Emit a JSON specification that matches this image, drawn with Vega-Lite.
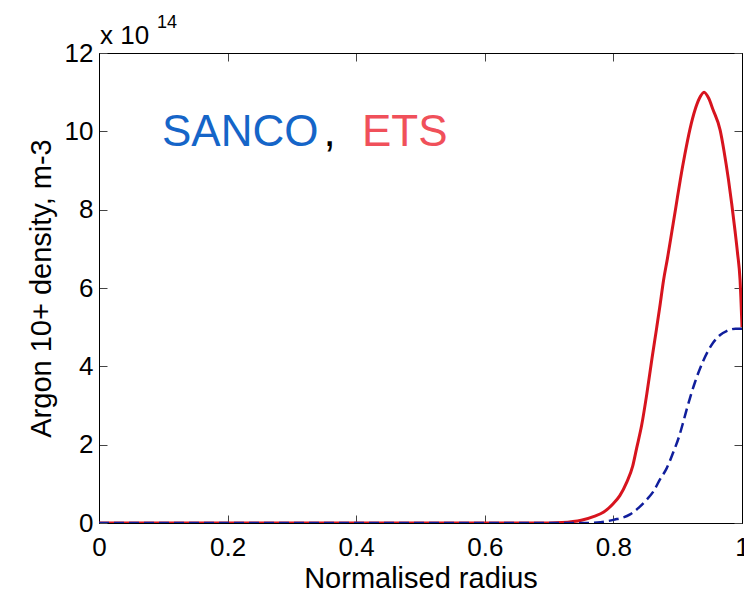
{
  "$schema": "https://vega.github.io/schema/vega-lite/v6.json",
  "autosize": {"type": "none"},
  "padding": {"left": 99, "top": 53, "right": 2, "bottom": 72},
  "width": 643,
  "height": 470,
  "background": "white",
  "config": {
    "font": "Liberation Sans",
    "view": {"stroke": "black", "strokeWidth": 1},
    "axis": {
      "grid": false,
      "domainColor": "black",
      "tickColor": "#444444",
      "tickWidth": 1,
      "labelColor": "black",
      "titleColor": "black",
      "labelFont": "Liberation Sans",
      "titleFont": "Liberation Sans",
      "titleFontWeight": "normal",
      "labelFontSize": 26,
      "titleFontSize": 29
    }
  },
  "datasets": {
    "ets": [
      {"r": 0.0, "n": 0.0}, {"r": 0.7, "n": 0.0}, {"r": 0.72, "n": 0.01},
      {"r": 0.75, "n": 0.07}, {"r": 0.77, "n": 0.17}, {"r": 0.785, "n": 0.28},
      {"r": 0.8, "n": 0.5}, {"r": 0.81, "n": 0.7}, {"r": 0.821, "n": 1.05},
      {"r": 0.83, "n": 1.45}, {"r": 0.836, "n": 1.9}, {"r": 0.844, "n": 2.5},
      {"r": 0.852, "n": 3.3}, {"r": 0.86, "n": 4.2}, {"r": 0.867, "n": 4.95},
      {"r": 0.872, "n": 5.5}, {"r": 0.878, "n": 6.2}, {"r": 0.884, "n": 6.75},
      {"r": 0.891, "n": 7.45}, {"r": 0.897, "n": 8.05}, {"r": 0.904, "n": 8.76},
      {"r": 0.911, "n": 9.4}, {"r": 0.919, "n": 10.05}, {"r": 0.927, "n": 10.55},
      {"r": 0.934, "n": 10.85}, {"r": 0.941, "n": 11.0}, {"r": 0.948, "n": 10.85},
      {"r": 0.955, "n": 10.55}, {"r": 0.966, "n": 10.03}, {"r": 0.972, "n": 9.5},
      {"r": 0.979, "n": 8.76}, {"r": 0.984, "n": 8.15}, {"r": 0.989, "n": 7.48},
      {"r": 0.993, "n": 6.9}, {"r": 0.997, "n": 6.2}, {"r": 1.0, "n": 5.0}
    ],
    "sanco": [
      {"r": 0.0, "n": 0.0}, {"r": 0.7, "n": 0.0}, {"r": 0.76, "n": 0.0},
      {"r": 0.78, "n": 0.02}, {"r": 0.8, "n": 0.08}, {"r": 0.826, "n": 0.22},
      {"r": 0.84, "n": 0.4}, {"r": 0.852, "n": 0.6}, {"r": 0.862, "n": 0.8},
      {"r": 0.872, "n": 1.1}, {"r": 0.883, "n": 1.4}, {"r": 0.893, "n": 1.8},
      {"r": 0.902, "n": 2.2}, {"r": 0.909, "n": 2.6}, {"r": 0.914, "n": 2.9},
      {"r": 0.927, "n": 3.6}, {"r": 0.94, "n": 4.15}, {"r": 0.955, "n": 4.6},
      {"r": 0.966, "n": 4.8}, {"r": 0.976, "n": 4.9}, {"r": 0.99, "n": 4.96},
      {"r": 1.0, "n": 4.96}
    ]
  },
  "resolve": {"axis": {"x": "independent", "y": "independent"}},
  "layer": [
    {
      "description": "ETS profile, solid red, with the labelled bottom and left axes",
      "data": {"name": "ets"},
      "mark": {"type": "line", "color": "#d7141e", "strokeWidth": 3, "interpolate": "monotone", "clip": true},
      "encoding": {
        "x": {
          "field": "r", "type": "quantitative",
          "scale": {"domain": [0, 1], "nice": false, "zero": false},
          "axis": {
            "orient": "bottom", "title": "Normalised radius",
            "values": [0, 0.2, 0.4, 0.6, 0.8, 1], "format": "~g",
            "tickSize": -8, "labelPadding": 19, "titlePadding": 4,
            "labelFlush": false, "labelOverlap": false
          }
        },
        "y": {
          "field": "n", "type": "quantitative",
          "scale": {"domain": [0, 12], "nice": false},
          "axis": {
            "orient": "left", "title": "Argon 10+ density, m-3",
            "values": [0, 2, 4, 6, 8, 10, 12], "format": "d",
            "tickSize": -8, "labelPadding": 14, "titlePadding": 8,
            "labelFlush": false, "labelOverlap": false
          }
        }
      }
    },
    {
      "description": "SANCO profile, dashed navy, carrying the mirrored top and right tick axes",
      "data": {"name": "sanco"},
      "mark": {"type": "line", "color": "#101e9c", "strokeWidth": 2.5, "strokeDash": [10, 5], "interpolate": "monotone", "clip": true},
      "encoding": {
        "x": {
          "field": "r", "type": "quantitative",
          "axis": {"orient": "top", "title": null, "labels": false, "values": [0, 0.2, 0.4, 0.6, 0.8, 1], "tickSize": -8}
        },
        "y": {
          "field": "n", "type": "quantitative",
          "axis": {"orient": "right", "title": null, "labels": false, "values": [0, 2, 4, 6, 8, 10, 12], "tickSize": -8}
        }
      }
    },
    {
      "data": {"values": [{}]},
      "mark": {"type": "text", "text": "SANCO", "color": "#1565c8", "fontSize": 44, "align": "left", "baseline": "alphabetic"},
      "encoding": {"x": {"datum": 0.098, "type": "quantitative", "axis": null}, "y": {"datum": 9.62, "type": "quantitative", "axis": null}}
    },
    {
      "data": {"values": [{}]},
      "mark": {"type": "text", "text": ",", "color": "black", "fontSize": 44, "align": "left", "baseline": "alphabetic"},
      "encoding": {"x": {"datum": 0.349, "type": "quantitative", "axis": null}, "y": {"datum": 9.62, "type": "quantitative", "axis": null}}
    },
    {
      "data": {"values": [{}]},
      "mark": {"type": "text", "text": "ETS", "color": "#f0505a", "fontSize": 44, "align": "left", "baseline": "alphabetic"},
      "encoding": {"x": {"datum": 0.409, "type": "quantitative", "axis": null}, "y": {"datum": 9.62, "type": "quantitative", "axis": null}}
    },
    {
      "description": "axis multiplier x 10^14",
      "data": {"values": [{}]},
      "mark": {"type": "text", "text": "x 10", "color": "black", "fontSize": 26, "align": "left", "baseline": "alphabetic", "dx": 1, "dy": -9},
      "encoding": {"x": {"datum": 0, "type": "quantitative", "axis": null}, "y": {"datum": 12, "type": "quantitative", "axis": null}}
    },
    {
      "data": {"values": [{}]},
      "mark": {"type": "text", "text": "14", "color": "black", "fontSize": 18, "align": "left", "baseline": "alphabetic", "dx": 58, "dy": -25},
      "encoding": {"x": {"datum": 0, "type": "quantitative", "axis": null}, "y": {"datum": 12, "type": "quantitative", "axis": null}}
    }
  ]
}
